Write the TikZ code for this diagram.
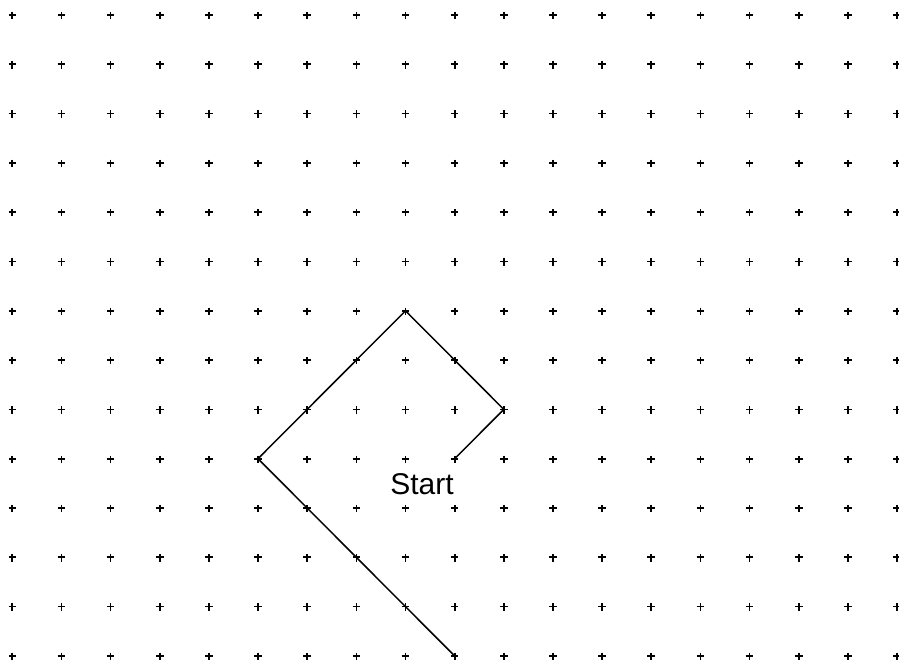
\documentclass[tikz,border=0pt]{standalone}
\usepackage{fontspec}
\setmainfont{Liberation Sans}
\begin{document}
\begin{tikzpicture}[x=1pt,y=-1pt,
  plusmark/.style={line width=1.7pt},
  pathline/.style={line width=1.5pt, line join=miter},
  label/.style={inner sep=0pt, font=\fontsize{30}{36}\selectfont}]
\useasboundingbox (0,0) rectangle (899,664);
\fill[white] (0,0) rectangle (899,664);
\foreach \i in {0,...,18}{
  \foreach \j in {0,...,13}{
    \pgfmathsetmacro{\px}{12.3+49.15*\i}
    \pgfmathsetmacro{\py}{15+49.3*\j}
    \draw[plusmark] (\px-3.8,\py) -- (\px+3.8,\py) (\px,\py-3.2) -- (\px,\py+4.2);
  }
}
\coordinate (s) at (454.7,458.7);
\coordinate (a) at (503.8,409.4);
\coordinate (b) at (405.5,310.8);
\coordinate (c) at (258.0,458.7);
\coordinate (d) at (454.7,656.0);
\draw[pathline] (s) -- (a) -- (b) -- (c) -- (d);
\node[label] (start) at (422,484) {Start};
\end{tikzpicture}
\end{document}
